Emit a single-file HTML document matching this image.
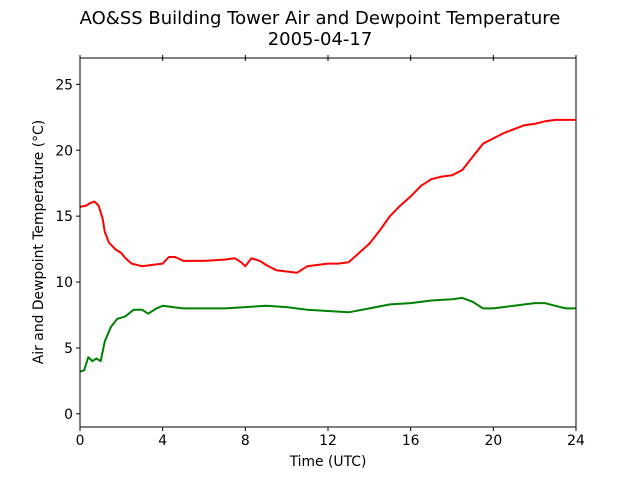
<!DOCTYPE html>
<html><head><meta charset="utf-8"><style>
html,body{margin:0;padding:0;background:#fff;}
svg{display:block;font-family:"DejaVu Sans","Liberation Sans",sans-serif;}
</style></head><body>
<svg id="chart" width="640" height="480" viewBox="0 0 640 480">
<text x="320" y="24" text-anchor="middle" font-size="18">AO&amp;SS Building Tower Air and Dewpoint Temperature</text>
<text x="320" y="45" text-anchor="middle" font-size="18">2005-04-17</text>
<g id="plot"></g>
<text x="328" y="466" text-anchor="middle" font-size="13.9">Time (UTC)</text>
<text transform="translate(43,242) rotate(-90)" text-anchor="middle" font-size="13.9">Air and Dewpoint Temperature (°C)</text>
</svg>
<script>
const xTicks=[0,4,8,12,16,20,24];
const yTicks=[0,5,10,15,20,25];
const airHours=[0,0.3,0.5,0.7,0.9,1.1,1.2,1.4,1.7,2.0,2.2,2.5,3.0,3.5,4.0,4.3,4.6,5.0,6.0,7.0,7.5,7.8,8.0,8.3,8.7,9.0,9.5,10.0,10.5,11.0,11.5,12.0,12.5,13.0,13.5,14.0,14.5,15.0,15.5,16.0,16.5,17.0,17.5,18.0,18.5,19.0,19.5,20.0,20.5,21.0,21.5,22.0,22.5,23.0,23.5,24.0];
const airTemp=[15.7,15.8,16.0,16.1,15.8,14.8,13.8,13.0,12.5,12.2,11.8,11.4,11.2,11.3,11.4,11.9,11.9,11.6,11.6,11.7,11.8,11.5,11.2,11.8,11.6,11.3,10.9,10.8,10.7,11.2,11.3,11.4,11.4,11.5,12.2,12.9,13.9,15.0,15.8,16.5,17.3,17.8,18.0,18.1,18.5,19.5,20.5,20.9,21.3,21.6,21.9,22.0,22.2,22.3,22.3,22.3];
const dewHours=[0,0.2,0.4,0.6,0.8,1.0,1.2,1.5,1.8,2.2,2.6,3.0,3.3,3.7,4.0,4.5,5.0,6.0,7.0,8.0,9.0,10.0,11.0,12.0,13.0,14.0,15.0,16.0,17.0,18.0,18.5,19.0,19.5,20.0,21.0,22.0,22.5,23.0,23.5,24.0];
const dewTemp=[3.2,3.3,4.3,4.0,4.2,4.0,5.5,6.6,7.2,7.4,7.9,7.9,7.6,8.0,8.2,8.1,8.0,8.0,8.0,8.1,8.2,8.1,7.9,7.8,7.7,8.0,8.3,8.4,8.6,8.7,8.8,8.5,8.0,8.0,8.2,8.4,8.4,8.2,8.0,8.0];
const L=80,R=576,T=58,B=427,xMin=0,xMax=24,yMin=-1,yMax=27;
const X=v=>L+(v-xMin)/(xMax-xMin)*(R-L);
const Y=v=>B-(v-yMin)/(yMax-yMin)*(B-T);
const NS='http://www.w3.org/2000/svg';
const g=document.getElementById('plot');
function mk(tag,attrs){const e=document.createElementNS(NS,tag);for(const k in attrs)e.setAttribute(k,attrs[k]);g.appendChild(e);return e;}
function series(xs,ys,color,name){
  const d=xs.map((h,i)=>(i?'L':'M')+X(h).toFixed(1)+','+Y(ys[i]).toFixed(1)).join('');
  const p=mk('path',{d:d,fill:'none',stroke:color,'stroke-width':2,'stroke-linejoin':'round'});
  
  
}
series(airHours,airTemp,'#ff0000','air-temperature-line');
series(dewHours,dewTemp,'#008000','dewpoint-temperature-line');
const frame=mk('rect',{x:L,y:T,width:R-L,height:B-T,fill:'none',stroke:'#000','stroke-width':1});


xTicks.forEach(v=>{
  const x=X(v);
  mk('line',{x1:x,x2:x,y1:B,y2:B+4,stroke:'#000'});
  mk('line',{x1:x,x2:x,y1:T-3,y2:T+3,stroke:'#000'});
  const t=mk('text',{x:x,y:B+18,'text-anchor':'middle','font-size':13.9});
  t.textContent=v;
  
  
});
yTicks.forEach(v=>{
  const y=Y(v);
  mk('line',{x1:L-4,x2:L,y1:y,y2:y,stroke:'#000'});
  const t=mk('text',{x:L-7,y:y+5,'text-anchor':'end','font-size':13.9});
  t.textContent=v;
  
  
});
</script>
</body></html>
